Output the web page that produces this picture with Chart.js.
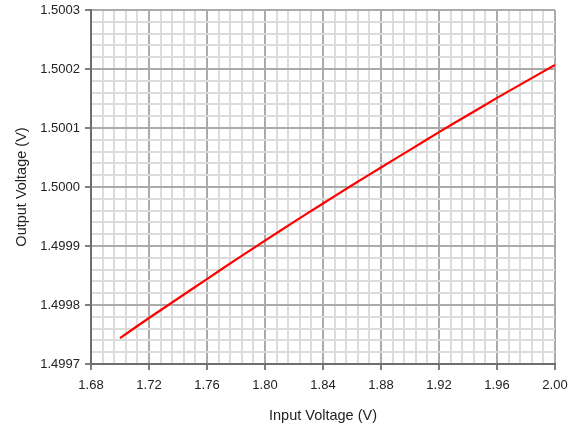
<!DOCTYPE html>
<html>
<head>
<meta charset="utf-8">
<title>Output Voltage vs Input Voltage</title>
<script src="https://cdn.jsdelivr.net/npm/chart.js@4.4.1/dist/chart.umd.min.js"></script>
<style>
  html, body { margin: 0; padding: 0; background: #ffffff; }
  canvas { display: block; }
</style>
</head>
<body>
<canvas id="chart" width="578" height="427"></canvas>
<script>
// Line regulation measurement: output voltage versus input voltage
const inputVoltage = [1.70, 1.72, 1.74, 1.76, 1.78, 1.80, 1.82, 1.84, 1.86, 1.88, 1.90, 1.92, 1.94, 1.96, 1.98, 2.00];
const outputVoltage = [1.499744, 1.499778, 1.499811, 1.499844, 1.499877, 1.499909, 1.499941, 1.499972,
                       1.500003, 1.500033, 1.500063, 1.500093, 1.500122, 1.500151, 1.500179, 1.500207];

// Labelled axis divisions; each one is split into five minor grid cells
const xTickLabels = ['1.68', '1.72', '1.76', '1.80', '1.84', '1.88', '1.92', '1.96', '2.00'];
const yTickLabels = ['1.4997', '1.4998', '1.4999', '1.5000', '1.5001', '1.5002', '1.5003'];
const minorPerMajor = 5;

const MAJOR_GRID = '#ababab';
const MINOR_GRID = '#dcdcdc';
const TEXT = '#222222';
const FONT = '"Liberation Sans", Arial, sans-serif';

function gridTicks(labels) {
  const first = parseFloat(labels[0]);
  const step = (parseFloat(labels[1]) - first) / minorPerMajor;
  const count = (labels.length - 1) * minorPerMajor;
  const ticks = [];
  for (let i = 0; i <= count; i++) ticks.push({ value: first + i * step });
  return ticks;
}

function axis(labels, labelPadding, extra) {
  return Object.assign({
    type: 'linear',
    min: parseFloat(labels[0]),
    max: parseFloat(labels[labels.length - 1]),
    afterBuildTicks: (scale) => { scale.ticks = gridTicks(labels); },
    ticks: {
      autoSkip: false,
      maxRotation: 0,
      minRotation: 0,
      padding: labelPadding,
      color: TEXT,
      font: { family: FONT, size: 13 },
      callback: (value, index) => (index % minorPerMajor === 0 ? labels[index / minorPerMajor] : '')
    },
    grid: {
      color: (ctx) => (ctx.index % minorPerMajor === 0 ? MAJOR_GRID : MINOR_GRID),
      lineWidth: 2,
      tickLength: 6,
      tickWidth: 1.5,
      tickColor: (ctx) => (ctx.index % minorPerMajor === 0 ? '#555555' : 'rgba(0,0,0,0)')
    },
    border: { display: true, color: '#6e6e6e', width: 2 }
  }, extra);
}

new Chart(document.getElementById('chart'), {
  type: 'line',
  data: {
    datasets: [{
      data: inputVoltage.map((v, i) => ({ x: v, y: outputVoltage[i] })),
      borderColor: '#ff0000',
      borderWidth: 2.2,
      pointRadius: 0,
      tension: 0.3,
      fill: false
    }]
  },
  options: {
    responsive: false,
    animation: false,
    devicePixelRatio: 1,
    layout: { padding: { left: 0, right: 23, top: 10, bottom: 0 } },
    plugins: { legend: { display: false }, tooltip: { enabled: false } },
    scales: {
      x: axis(xTickLabels, 8, {
        position: 'bottom',
        afterFit: (scale) => { scale.height = 63; scale.paddingLeft = 0; scale.paddingRight = 0; },
        title: {
          display: true,
          text: 'Input Voltage (V)',
          color: TEXT,
          font: { family: FONT, size: 14.5 },
          padding: { top: 0, bottom: 2 }
        }
      }),
      y: axis(yTickLabels, 5, {
        position: 'left',
        afterFit: (scale) => { scale.width = 91; scale.paddingTop = 0; scale.paddingBottom = 0; },
        title: {
          display: true,
          text: 'Output Voltage (V)',
          color: TEXT,
          font: { family: FONT, size: 14.5 },
          padding: { top: 13, bottom: 0 }
        }
      })
    }
  }
});
</script>
</body>
</html>
